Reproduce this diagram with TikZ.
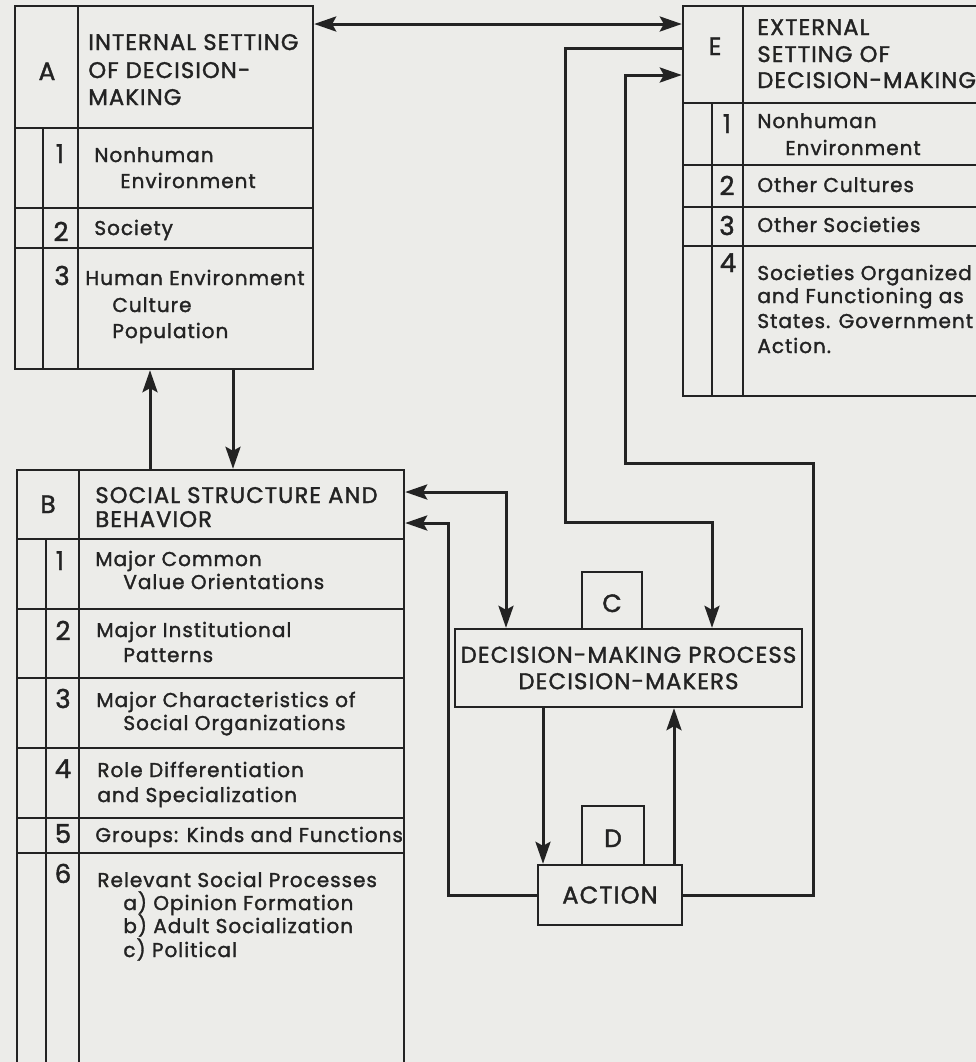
\documentclass[tikz,border=0pt]{standalone}
\usepackage{fontspec}
\setmainfont{Poppins}[LetterSpace=5,FakeBold=1.6,AutoFakeBold=1.6]
\usetikzlibrary{arrows.meta}
\definecolor{paper}{RGB}{236,236,233}
\definecolor{ink}{RGB}{35,35,35}

\begin{document}
\begin{tikzpicture}[x=0.5pt,y=-0.5pt,
  frame/.style={draw=ink,line width=1.2pt,inner sep=0pt},
  rule/.style={draw=ink,line width=1pt},
  arr/.style={draw=ink,line width=1.5pt,>={Stealth[length=11pt,width=7.5pt,inset=2pt]}},
  hd/.style={anchor=base west,inner sep=0pt,font=\fontsize{11.3}{13}\selectfont\bfseries,text=ink},
  tx/.style={anchor=base west,inner sep=0pt,font=\fontsize{10}{12}\selectfont\bfseries,text=ink},
  num/.style={anchor=base,inner sep=0pt,font=\fontsize{13}{15}\selectfont,text=ink},
  tag/.style={anchor=base,inner sep=0pt,font=\fontsize{12.5}{14}\selectfont\bfseries,text=ink}]
  \useasboundingbox (0,0) rectangle (976,1062);
  \fill[paper] (0,0) rectangle (976,1062);
  \clip (0,0) rectangle (976,1062);
  % A: internal setting
  \node[frame,minimum width=149pt,minimum height=181.5pt] (A) at (164,187.5) {};
  \foreach \y in {128,208,248} \draw[rule] (15,\y) -- (313,\y);
  \draw[rule] (78,6) -- (78,369);
  \draw[rule] (43,128) -- (43,369);
  \node[tag] (Alab) at (47,80) {A};
  \node[hd] (Ah1) at (88,50) {INTERNAL SETTING};
  \node[hd] (Ah2) at (88,78) {OF DECISION-};
  \node[hd] (Ah3) at (88,105) {MAKING};
  \node[num] (An1) at (60,163) {1};
  \node[tx] (At1) at (94,162) {Nonhuman};
  \node[tx] (At1b) at (120,188) {Environment};
  \node[num] (An2) at (61,241) {2};
  \node[tx] (At2) at (94,235) {Society};
  \node[num] (An3) at (62,285) {3};
  \node[tx] (At3) at (85,285) {Human Environment};
  \node[tx] (At3b) at (112,312) {Culture};
  \node[tx] (At3c) at (112,338) {Population};
  % E: external setting
  \node[frame,minimum width=158.5pt,minimum height=195pt] (E) at (841.5,201) {};
  \foreach \y in {103,165,207,246} \draw[rule] (683,\y) -- (1000,\y);
  \draw[rule] (743,6) -- (743,396);
  \draw[rule] (712,103) -- (712,396);
  \node[tag] (Elab) at (715,55) {E};
  \node[hd] (Eh1) at (757,35) {EXTERNAL};
  \node[hd] (Eh2) at (757,62) {SETTING OF};
  \node[hd] (Eh3) at (757,88) {DECISION-MAKING};
  \node[num] (En1) at (727,133) {1};
  \node[tx] (Et1) at (757,128) {Nonhuman};
  \node[tx] (Et1b) at (785,155) {Environment};
  \node[num] (En2) at (727,195) {2};
  \node[tx] (Et2) at (757,192) {Other Cultures};
  \node[num] (En3) at (727,235) {3};
  \node[tx] (Et3) at (757,232) {Other Societies};
  \node[num] (En4) at (728,272) {4};
  \node[tx] (Et4) at (757,280) {Societies Organized};
  \node[tx] (Et4b) at (757,303) {and Functioning as};
  \node[tx] (Et4c) at (757,328) {States. Government};
  \node[tx] (Et4d) at (757,353) {Action.};
  % B: social structure
  \node[frame,minimum width=193.5pt,minimum height=305pt] (B) at (210.5,775) {};
  \foreach \y in {539,609,678,748,818,853} \draw[rule] (17,\y) -- (404,\y);
  \draw[rule] (79,470) -- (79,1080);
  \draw[rule] (46,539) -- (46,1080);
  \node[tag] (Blab) at (48,513) {B};
  \node[hd] (Bh1) at (95,503) {SOCIAL STRUCTURE AND};
  \node[hd] (Bh2) at (95,527) {BEHAVIOR};
  \node[num] (Bn1) at (60,570) {1};
  \node[tx] (Bt1) at (95,566) {Major Common};
  \node[tx] (Bt1b) at (123,589) {Value Orientations};
  \node[num] (Bn2) at (63,640) {2};
  \node[tx] (Bt2) at (96,637) {Major Institutional};
  \node[tx] (Bt2b) at (123,662) {Patterns};
  \node[num] (Bn3) at (63,708) {3};
  \node[tx] (Bt3) at (96,707) {Major Characteristics of};
  \node[tx] (Bt3b) at (123,730) {Social Organizations};
  \node[num] (Bn4) at (63,778) {4};
  \node[tx] (Bt4) at (97,777) {Role Differentiation};
  \node[tx] (Bt4b) at (97,802) {and Specialization};
  \node[num] (Bn5) at (63,843) {5};
  \node[tx] (Bt5) at (95,842) {Groups: Kinds and Functions};
  \node[num] (Bn6) at (63,883) {6};
  \node[tx] (Bt6) at (97,887) {Relevant Social Processes};
  \node[tx] (Bt6a) at (123,910) {a) Opinion Formation};
  \node[tx] (Bt6b) at (123,933) {b) Adult Socialization};
  \node[tx] (Bt6c) at (123,957) {c) Political};
  % C and D
  \node[frame,minimum width=30pt,minimum height=28.5pt] (Ctab) at (612,600.5) {};
  \node[tag] (Clab) at (612,612) {C};
  \node[frame,minimum width=173.5pt,minimum height=39pt,align=center,
    font=\fontsize{11.4}{13.2}\selectfont\bfseries,text=ink] (C) at (628.5,668)
    {DECISION-MAKING PROCESS\\DECISION-MAKERS};
  \node[frame,minimum width=31pt,minimum height=29.5pt] (Dtab) at (613,835.5) {};
  \node[tag] (Dlab) at (613,847) {D};
  \node[frame,minimum width=72pt,minimum height=30pt,
    font=\fontsize{12}{14}\selectfont\bfseries,text=ink] (D) at (610,895) {ACTION};
  % connectors
  \coordinate (ae) at (0,24);
  \coordinate (bc) at (506,492);
  \coordinate (db) at (448,523);
  \coordinate (dr) at (813,463);
  \coordinate (de) at (625,75);
  \coordinate (ec) at (565,48);
  \coordinate (ecm) at (712,522);
  \draw[arr,<->] (A.east |- ae) -- (E.west |- ae);
  \draw[arr,->] (B.north -| 150,0) -- (A.south -| 150,0);
  \draw[arr,->] (A.south -| 233,0) -- (B.north -| 233,0);
  \draw[arr,<->] (B.east |- bc) -| (C.north -| bc);
  \draw[arr,->] (D.west) -| (db) -- (B.east |- db);
  \draw[arr,->] (D.east) -| (dr) -| (de) -- (E.west |- de);
  \draw[arr,->] (E.west |- ec) -| (ec |- ecm) -| (C.north -| ecm);
  \draw[arr,->] (C.south -| 543,0) -- (D.north -| 543,0);
  \draw[arr,->] (D.north -| 674,0) -- (C.south -| 674,0);
\end{tikzpicture}
\end{document}
